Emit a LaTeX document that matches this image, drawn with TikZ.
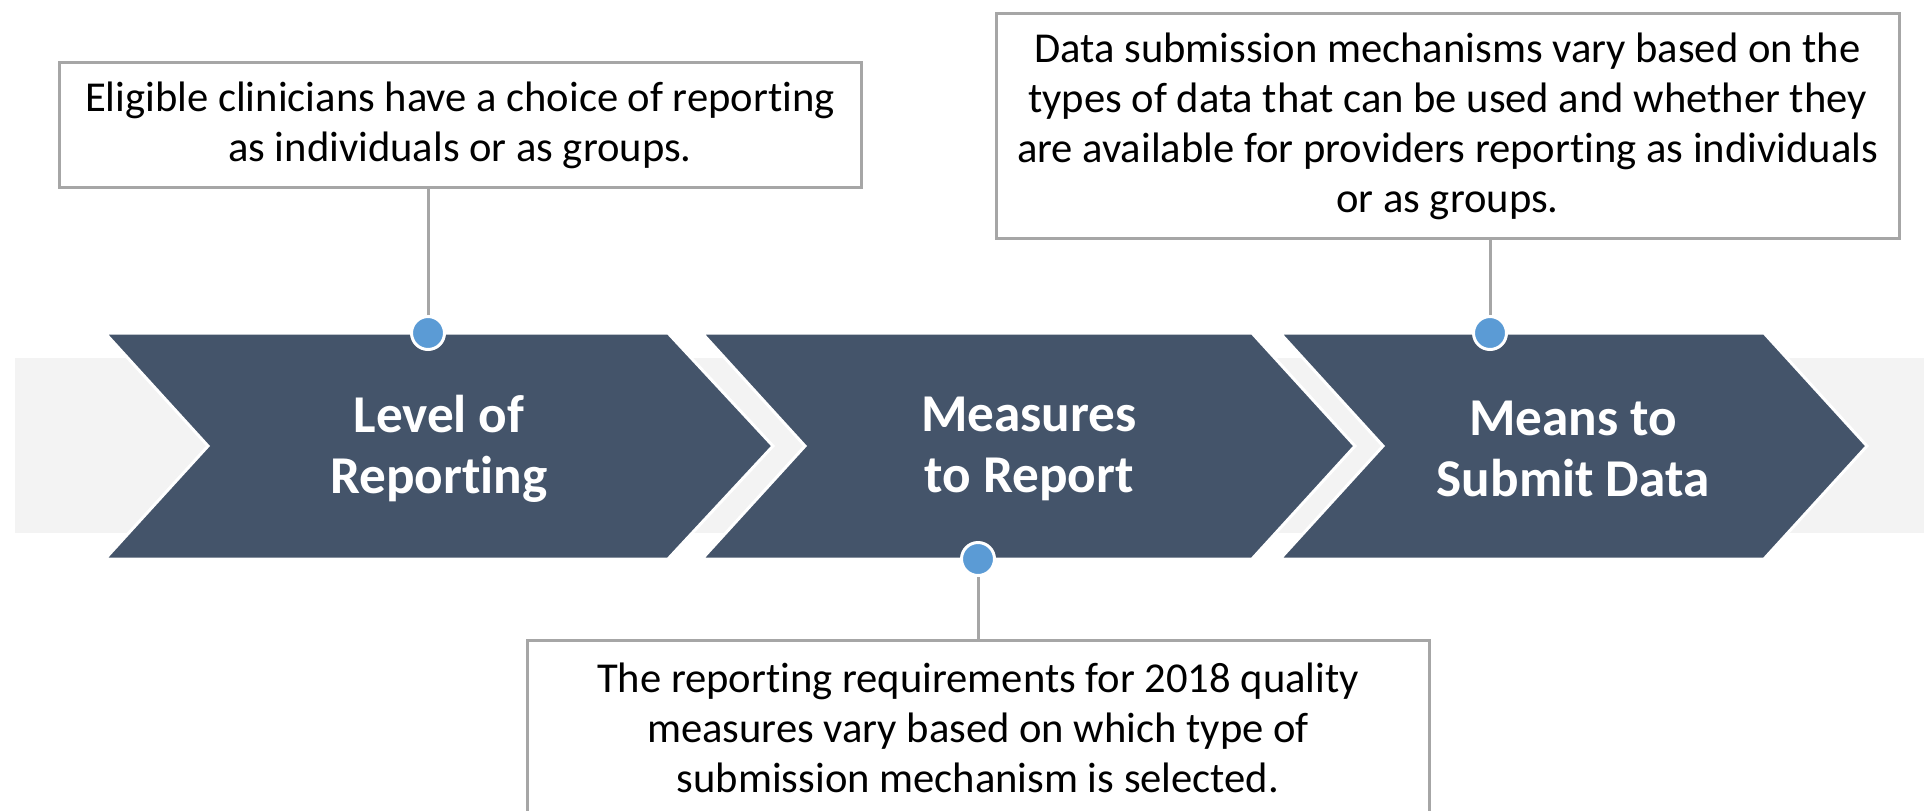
\documentclass[tikz,border=0pt]{standalone}
\usepackage{fontspec}
\setmainfont{Carlito}[Ligatures=NoCommon]
\definecolor{slate}{HTML}{44546A}
\definecolor{dotblue}{HTML}{5B9BD5}
\definecolor{linegray}{HTML}{A6A6A6}
\definecolor{bandgray}{HTML}{F3F3F3}

\begin{document}
\begin{tikzpicture}[x=0.5pt, y=-0.5pt,
    chevron/.style={fill=slate, draw=white, line width=1.5pt, line join=miter},
    chevtext/.style={text=white, font=\fontsize{26.6}{30.5}\selectfont\bfseries, align=center},
    bullet/.style={circle, fill=dotblue, draw=white, line width=1.5pt, minimum size=16.5pt, inner sep=0pt},
    notebox/.style={draw=linegray, line width=1.5pt, fill=white, align=center, font=\fontsize{21.3}{25}\selectfont, inner sep=0pt},
    connector/.style={draw=linegray, line width=1.5pt}
]
\useasboundingbox (0,0) rectangle (1924,810);
\clip (0,0) rectangle (1924,810);

% band behind the chevrons
\fill[bandgray] (15,358) rectangle (1924,533);

% chevrons
\draw[chevron] (105,333) -- (668,333) -- (773,446) -- (668,559) -- (105,559) -- (208,446) -- cycle;
\draw[chevron] (702,333) -- (1252,333) -- (1355,446) -- (1252,559) -- (702,559) -- (805,446) -- cycle;
\draw[chevron] (1280,333) -- (1764,333) -- (1867,446) -- (1764,559) -- (1280,559) -- (1383,446) -- cycle;

\node[chevtext] (level) at (439,449) {Level of\\Reporting};
\node[chevtext] (measures) at (1029,449) {Measures\\to Report};
\node[chevtext] (means) at (1573,449) {Means to\\Submit Data};

% notes
\node[notebox, minimum width=401pt, minimum height=62.5pt] (choice) at (460,125)
    {Eligible clinicians have a choice of reporting\\as individuals or as groups.};
\node[notebox, minimum width=451.5pt, minimum height=112.5pt] (mechanisms) at (1447.5,126)
    {Data submission mechanisms vary based on the\\types of data that can be used and whether they\\are available for providers reporting as individuals\\or as groups.};
\node[notebox, minimum width=451pt, minimum height=88pt] (requirements) at (978,728)
    {The reporting requirements for 2018 quality\\measures vary based on which type of\\submission mechanism is selected.};

% markers on the chevrons
\node[bullet] (d1) at (428,333) {};
\node[bullet] (d2) at (978,559) {};
\node[bullet] (d3) at (1490,333) {};

\draw[connector] (d1) -- (d1 |- choice.south);
\draw[connector] (d2) -- (d2 |- requirements.north);
\draw[connector] (d3) -- (d3 |- mechanisms.south);

\end{tikzpicture}
\end{document}
